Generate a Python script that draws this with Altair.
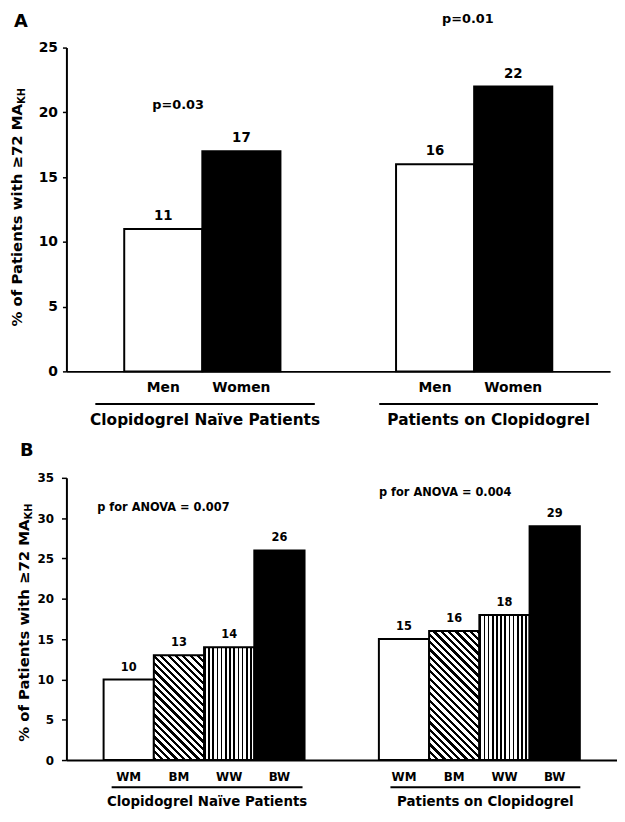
import math
import altair as alt
import pandas as pd

# ---------------- data ----------------
groups = ["Clopidogrel Naïve Patients", "Patients on Clopidogrel"]

sex_labels = ["Men", "Women"]
sex_naive = [11, 17]
sex_clop = [16, 22]
p_sex = ["p=0.03", "p=0.01"]
p_sex_y = [20.6, 27.2]

race_labels = ["WM", "BM", "WW", "BW"]
race_naive = [10, 13, 14, 26]
race_clop = [15, 16, 18, 29]
p_race = ["p for ANOVA = 0.007", "p for ANOVA = 0.004"]
p_race_y = [31.3, 33.1]

ticks_a = [0, 5, 10, 15, 20, 25]
ticks_b = [0, 5, 10, 15, 20, 25, 30, 35]

y_title = "% of Patients with \u226572 MA"
y_sub = "KH"

FONT = "DejaVu Sans"

# layout (in bar-width units)
OUTER = 0.74
GAP = 1.48


def frame(cats, vals_by_group):
    nb = len(cats)
    rows = []
    for gi, (g, vals) in enumerate(zip(groups, vals_by_group)):
        start = OUTER + gi * (nb + GAP)
        for i, (c, v) in enumerate(zip(cats, vals)):
            rows.append({"group": g, "cat": c, "value": v, "key": f"{gi}-{c}",
                         "x0": start + i, "x1": start + i + 1, "xc": start + i + 0.5})
    return pd.DataFrame(rows)


def stripes(n, frac, x1, y1, x2, y2):
    stops = []
    k = math.ceil(n)
    for i in range(k):
        a = min(i / n, 1.0)
        b = min((i + frac) / n, 1.0)
        c = min((i + 1) / n, 1.0)
        stops += [
            {"offset": a, "color": "black"},
            {"offset": b, "color": "black"},
            {"offset": b, "color": "white"},
            {"offset": c, "color": "white"},
        ]
    return {"gradient": "linear", "x1": x1, "y1": y1, "x2": x2, "y2": y2, "stops": stops}


def diag(value, W, H, ymax, total, period=7.4, frac=0.45):
    w = W / total
    h = value * H / ymax
    r = h / w
    n = w * (1 + r * r) / period
    return stripes(n, frac, 0, 1, 1, 1 - r)


def panel(df, cats, W, H, ymax, ticks, fill, letter, letter_pos, tick_fs, tick_pad,
          tick_size, val_fs, cat_fs, grp_fs, p_fs, p_texts, p_y, p_off,
          title_x, title_y, cat_dy, line_dy, grp_dy, line_ext):
    nb = len(cats)
    total = 2 * OUTER + 2 * nb + GAP
    xscale = alt.Scale(domain=[0, total], nice=False, zero=False)
    xaxis = alt.Axis(labels=False, ticks=False, title=None, grid=False,
                     domainColor="black", domainWidth=2)
    ys = alt.Y("value:Q", scale=alt.Scale(domain=[0, ymax], nice=False),
               axis=alt.Axis(values=ticks, title=None, grid=False, domainColor="black",
                             domainWidth=2, tickColor="black", tickWidth=1.5,
                             tickSize=tick_size, labelFont=FONT, labelFontWeight="bold",
                             labelFontSize=tick_fs, labelColor="black",
                             labelPadding=tick_pad))

    def X(field):
        return alt.X(field, scale=xscale, axis=xaxis)

    base = alt.Chart(df)
    bars = base.mark_rect(stroke="black", strokeWidth=2).encode(
        x=X("x0:Q"), x2="x1:Q", y=ys, y2=alt.datum(0), fill=fill)
    vals = base.mark_text(font=FONT, fontWeight="bold", fontSize=val_fs, color="black",
                          baseline="alphabetic", dy=-9).encode(
        x=X("xc:Q"), y=ys, text="value:Q")
    catl = base.mark_text(font=FONT, fontWeight="bold", fontSize=cat_fs, color="black",
                          baseline="middle").encode(
        x=X("xc:Q"), y=alt.value(H + cat_dy), text="cat:N")

    rows = []
    for gi, g in enumerate(groups):
        start = OUTER + gi * (nb + GAP)
        u0 = start - line_ext[gi][0]
        u1 = start + nb + line_ext[gi][1]
        rows.append({"group": g, "u0": u0, "u1": u1, "uc": (u0 + u1) / 2,
                     "px": start + nb / 2 + p_off[gi], "value": p_y[gi], "p": p_texts[gi]})
    gdf = pd.DataFrame(rows)
    gc = alt.Chart(gdf)
    line = gc.mark_rule(color="black", strokeWidth=2).encode(
        x=X("u0:Q"), x2="u1:Q", y=alt.value(H + line_dy))
    grp = gc.mark_text(font=FONT, fontWeight="bold", fontSize=grp_fs, color="black",
                       baseline="middle").encode(
        x=X("uc:Q"), y=alt.value(H + grp_dy), text="group:N")
    ptx = gc.mark_text(font=FONT, fontWeight="bold", fontSize=p_fs, color="black",
                       baseline="middle").encode(x=X("px:Q"), y=ys, text="p:N")

    tdf = pd.DataFrame({"t": [y_title], "s": [y_sub], "l": [letter]})
    tc = alt.Chart(tdf)
    t1 = tc.mark_text(font=FONT, fontWeight="bold", fontSize=15, angle=270,
                      align="right", baseline="alphabetic", color="black").encode(
        x=alt.value(title_x), y=alt.value(title_y), text="t:N")
    t2 = tc.mark_text(font=FONT, fontWeight="bold", fontSize=10, angle=270,
                      align="left", baseline="alphabetic", color="black").encode(
        x=alt.value(title_x + 3), y=alt.value(title_y), text="s:N")
    t3 = tc.mark_text(font=FONT, fontWeight="bold", fontSize=18, align="left",
                      baseline="middle", color="black").encode(
        x=alt.value(letter_pos[0]), y=alt.value(letter_pos[1]), text="l:N")
    return alt.layer(bars, vals, catl, line, grp, ptx, t1, t2, t3).properties(
        width=W, height=H)


# ---- panel A ----
df_a = frame(sex_labels, [sex_naive, sex_clop])
fill_a = {"condition": [{"test": "datum.cat === 'Women'", "value": "black"}], "value": "white"}
WA, HA = 549, 327
chart_a = panel(df_a, sex_labels, WA, HA, 25, ticks_a, fill_a, "A", (-53, -26),
                14, 5, 4, 13.5, 14, 15.5, 13, p_sex, p_sex_y, [-0.31, -0.08],
                -45, 57, 17, 33, 49, [(0.37, 0.44), (0.215, 0.585)])

# ---- panel B ----
df_b = frame(race_labels, [race_naive, race_clop])
WB, HB = 556, 285
TOT_B = 2 * OUTER + 8 + GAP
vert = stripes(12, 0.38, 0, 0, 1, 0)
conds_b = [
    {"test": "datum.cat === 'BW'", "value": "black"},
    {"test": "datum.cat === 'WW'", "value": vert},
    {"test": "datum.key === '0-BM'", "value": diag(race_naive[1], WB, HB, 35, TOT_B)},
    {"test": "datum.key === '1-BM'", "value": diag(race_clop[1], WB, HB, 35, TOT_B)},
]
fill_b = {"condition": conds_b, "value": "white"}
chart_b = panel(df_b, race_labels, WB, HB, 35, ticks_b, fill_b, "B", (-47, -27),
                12, 8, 5, 11.5, 12, 13.5, 11.5, p_race, p_race_y, [-0.81, -0.68],
                -38, 42, 17.5, 27.5, 42, [(-0.16, -0.04), (-0.23, 0.01)])

chart = alt.ConcatChart(concat=[chart_a, chart_b], columns=1, align="none",
                        spacing=13.5).properties(
    padding={"top": 1, "left": 2, "right": 0, "bottom": 0}, background="white"
).configure_view(stroke=None)

chart.save("out.html", embed_options={"renderer": "svg", "actions": False})
